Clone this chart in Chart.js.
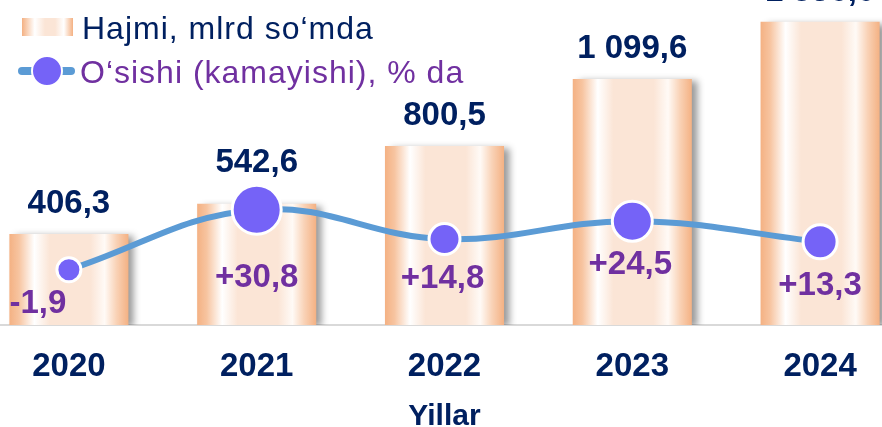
<!DOCTYPE html>
<html>
<head>
<meta charset="utf-8">
<script src="https://cdn.jsdelivr.net/npm/chart.js@4/dist/chart.umd.min.js"></script>
<style>
  html, body { margin: 0; padding: 0; background: #fff; }
  body { width: 882px; height: 427px; overflow: hidden; position: relative; font-family: Arial, 'Liberation Sans', sans-serif; }
  #wrap { position: absolute; left: -25px; top: 0; width: 939px; height: 435px; }
  .lg { position: absolute; white-space: nowrap; font-size: 32px; letter-spacing: 1px; line-height: 36px; }
  .sw-bar { position: absolute; left: 22px; top: 18px; width: 51px; height: 18px;
    background: linear-gradient(90deg, #f4b183 0%, #ffffff 25%, #fbe5d6 45%, #fbe5d6 65%, #ffffff 82%, #f4b183 100%); }
  .sw-line { position: absolute; left: 18px; top: 67px; width: 57px; height: 8px; border-radius: 4px; background: #5b9bd5; }
  .sw-dot { position: absolute; left: 31px; top: 55px; width: 28px; height: 28px; border-radius: 50%; background: #7563f7; border: 2px solid #fff; }
</style>
</head>
<body>
<div id="wrap"><canvas id="c" width="939" height="435"></canvas></div>
<div class="sw-bar"></div>
<div class="lg" style="left:82px; top:10px; color:#002060;">Hajmi, mlrd so‘mda</div>
<div class="sw-line"></div>
<div class="sw-dot"></div>
<div class="lg" style="left:80px; top:54px; color:#7030a0;">O‘sishi (kamayishi), % da</div>
<script>
// data
const years = ['2020', '2021', '2022', '2023', '2024'];
const volume = [406.3, 542.6, 800.5, 1099.6, 1356.0];
const growth = [-1.9, 30.8, 14.8, 24.5, 13.3];

// styling
const navy = '#002060';
const purple = '#7030a0';
const barPct = 0.634;
const dotRadius = [12, 24.5, 15.5, 20, 17];
const growthShift = { dx: [-31, 0, -2, -2, 0], dy: [34, 68, 40, 44, 44] };

function fmtVolume(v) {
    const parts = v.toFixed(1).split('.');
    const intPart = parts[0].replace(/\B(?=(\d{3})+(?!\d))/g, ' ');
    return intPart + ',' + parts[1];
}
function fmtGrowth(v) {
    return (v > 0 ? '+' : '') + v.toFixed(1).replace('.', ',');
}

function barFill(c) {
    const chart = c.chart;
    const xs = chart.scales.x;
    if (!chart.chartArea || !xs || c.dataIndex === undefined) return '#fbe5d6';
    const cx = xs.getPixelForValue(c.dataIndex);
    const w = xs.width / years.length * barPct;
    const g = chart.ctx.createLinearGradient(cx - w / 2, 0, cx + w / 2, 0);
    g.addColorStop(0, '#f4b183');
    g.addColorStop(0.08, '#f7c4a0');
    g.addColorStop(0.21, '#ffffff');
    g.addColorStop(0.34, '#fbe5d6');
    g.addColorStop(0.68, '#fbe5d6');
    g.addColorStop(0.8, '#fffaf6');
    g.addColorStop(0.9, '#f9d2b6');
    g.addColorStop(1, '#f4b183');
    return g;
}

const shadowPlugin = {
    id: 'barShadow',
    beforeDatasetDraw(chart, args) {
        if (args.index !== 0) return;
        const ctx = chart.ctx;
        ctx.save();
        ctx.shadowColor = 'rgba(0,0,0,0.4)';
        ctx.shadowBlur = 7;
        ctx.shadowOffsetX = 6;
        ctx.shadowOffsetY = 2;
    },
    afterDatasetDraw(chart, args) {
        if (args.index !== 0) return;
        chart.ctx.restore();
    }
};

const labelPlugin = {
    id: 'valueLabels',
    afterDatasetsDraw(chart) {
        const ctx = chart.ctx;
        const bars = chart.getDatasetMeta(0).data;
        const dots = chart.getDatasetMeta(1).data;
        ctx.save();
        ctx.textAlign = 'center';
        ctx.textBaseline = 'middle';
        ctx.font = 'bold 33px Arial, "Liberation Sans", sans-serif';
        ctx.fillStyle = navy;
        bars.forEach((b, i) => {
            const d = dots[i];
            const y = Math.min(b.y - 30, d.y - dotRadius[i] - 22);
            ctx.fillText(fmtVolume(volume[i]), b.x, y);
        });
        ctx.fillStyle = purple;
        dots.forEach((d, i) => {
            ctx.fillText(fmtGrowth(growth[i]), d.x + growthShift.dx[i], d.y + growthShift.dy[i]);
        });
        ctx.restore();
    }
};

new Chart(document.getElementById('c'), {
    data: {
        labels: years,
        datasets: [{
            type: 'bar',
            data: volume,
            yAxisID: 'y',
            backgroundColor: barFill,
            borderWidth: 0,
            barPercentage: barPct,
            categoryPercentage: 1,
            order: 2
        }, {
            type: 'line',
            data: growth,
            yAxisID: 'y2',
            borderColor: '#5b9bd5',
            borderWidth: 6,
            tension: 0.4,
            pointRadius: dotRadius,
            pointBackgroundColor: '#7563f7',
            pointBorderColor: '#ffffff',
            pointBorderWidth: 3,
            order: 1,
            clip: false
        }]
    },
    options: {
        responsive: false,
        animation: false,
        devicePixelRatio: 1,
        layout: { padding: 0, autoPadding: false },
        plugins: { legend: { display: false }, tooltip: { enabled: false } },
        scales: {
            x: {
                grid: { display: false, drawTicks: false },
                border: { display: true, color: '#d9d9d9', width: 2 },
                ticks: { color: navy, font: { size: 33, weight: 'bold', family: 'Arial, "Liberation Sans", sans-serif' }, padding: 22 },
                title: {
                    display: true, text: 'Yillar', color: navy,
                    font: { size: 30, weight: 'bold', family: 'Arial, "Liberation Sans", sans-serif' },
                    padding: { top: -9.6, bottom: 0 }
                }
            },
            y: { display: false, min: 0, max: 1453 },
            y2: { display: false, min: -32, max: 145 }
        }
    },
    plugins: [shadowPlugin, labelPlugin]
});
</script>
</body>
</html>
